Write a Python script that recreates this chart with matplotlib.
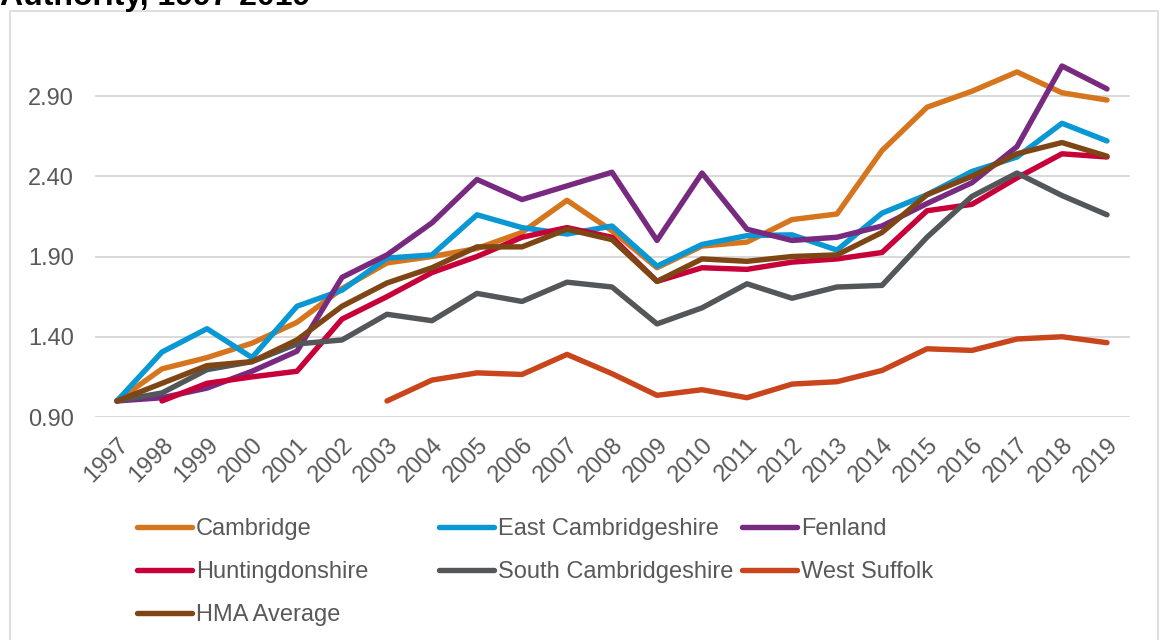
import matplotlib.pyplot as plt
import numpy as np
from matplotlib.patches import Rectangle

plt.rcParams["font.family"] = ["Liberation Sans", "DejaVu Sans"]

W, H = 1164, 640
GREY_TXT = "#595959"
GRID = "#D9D9D9"

years = list(range(1997, 2020))
nan = np.nan

cambridge = [1.00, 1.20, 1.27, 1.36, 1.49, 1.70, 1.86, 1.90, 1.95, 2.05, 2.25, 2.06,
             1.83, 1.965, 1.99, 2.13, 2.165, 2.56, 2.83, 2.93, 3.05, 2.92, 2.875]
east_cambs = [1.00, 1.305, 1.45, 1.27, 1.59, 1.69, 1.89, 1.91, 2.16, 2.08, 2.04, 2.09,
              1.84, 1.975, 2.03, 2.035, 1.94, 2.17, 2.285, 2.43, 2.52, 2.73, 2.62]
fenland = [1.00, 1.02, 1.08, 1.185, 1.31, 1.77, 1.91, 2.11, 2.38, 2.255, 2.34, 2.425,
           2.00, 2.42, 2.07, 2.00, 2.02, 2.09, 2.23, 2.36, 2.585, 3.087, 2.944]
hunts = [nan, 1.00, 1.11, 1.15, 1.185, 1.51, 1.65, 1.80, 1.90, 2.02, 2.08, 2.02,
         1.745, 1.83, 1.82, 1.865, 1.885, 1.925, 2.185, 2.225, 2.39, 2.54, 2.52]
south_cambs = [1.00, 1.05, 1.195, 1.245, 1.355, 1.38, 1.54, 1.50, 1.67, 1.62, 1.74, 1.71,
               1.48, 1.58, 1.73, 1.64, 1.71, 1.72, 2.02, 2.275, 2.42, 2.28, 2.16]
west_suffolk = [nan, nan, nan, nan, nan, nan, 1.00, 1.13, 1.175, 1.165, 1.29, 1.17,
                1.035, 1.07, 1.02, 1.105, 1.12, 1.19, 1.325, 1.315, 1.386, 1.40, 1.363]
hma_avg = [1.00, 1.11, 1.22, 1.245, 1.38, 1.59, 1.735, 1.83, 1.96, 1.96, 2.07, 2.005,
           1.745, 1.885, 1.87, 1.90, 1.91, 2.05, 2.285, 2.40, 2.54, 2.61, 2.525]

series = [
    ("Cambridge", cambridge, "#D5761E"),
    ("East Cambridgeshire", east_cambs, "#0A98D5"),
    ("Fenland", fenland, "#772A80"),
    ("Huntingdonshire", hunts, "#C70039"),
    ("South Cambridgeshire", south_cambs, "#53575A"),
    ("West Suffolk", west_suffolk, "#C9451C"),
    ("HMA Average", hma_avg, "#7E4614"),
]
yticks = [0.90, 1.40, 1.90, 2.40, 2.90]

fig = plt.figure(figsize=(W / 100, H / 100), dpi=100)

# chart frame
fig.patches.append(Rectangle((9.5 / W, -0.1), (1158 - 9.5) / W, 1.1 - 11 / H,
                             transform=fig.transFigure, fill=False,
                             edgecolor="#D9D9D9", linewidth=1.2))

# title, cut off at the top edge as in the source image
fig.text(310 / W, 1 - 5 / H, "Authority, 1997-2019", ha="right", va="baseline",
         fontsize=23, fontweight="bold", color="black")

left, right = 94.5 / W, 1129.5 / W
bottom, top = 1 - 417 / H, 1 - 40 / H
ax = fig.add_axes([left, bottom, right - left, top - bottom])

handles = {}
for name, vals, clr in series:
    ln, = ax.plot(years, vals, color=clr, linewidth=3.9, label=name,
                  solid_capstyle="round", solid_joinstyle="round", clip_on=False)
    handles[name] = ln

ax.set_xlim(1996.5, 2019.5)
ax.set_ylim(0.90, 3.249)
ax.set_yticks(yticks)
ax.set_yticklabels([f"{v:.2f}" for v in yticks])
ax.set_xticks(years)
ax.set_xticklabels([str(y) for y in years], rotation=45, ha="right")
ax.tick_params(axis="both", length=0, labelsize=17, labelcolor=GREY_TXT)
ax.tick_params(axis="y", pad=15)
ax.tick_params(axis="x", pad=12)
for lbl in ax.get_xticklabels():
    lbl.set_rotation_mode("anchor")

ax.grid(axis="y", color=GRID, linewidth=1.4)
ax.set_axisbelow(True)
for s in ax.spines.values():
    s.set_visible(False)

# legend laid out in three columns like the source
cols = [
    (137, ["Cambridge", "Huntingdonshire", "HMA Average"]),
    (439, ["East Cambridgeshire", "South Cambridgeshire"]),
    (742, ["Fenland", "West Suffolk"]),
]
for x0, names in cols:
    fig.legend([handles[n] for n in names], names, loc="upper left",
               bbox_to_anchor=(x0 / W, 1 - 518 / H), bbox_transform=fig.transFigure,
               frameon=False, fontsize=17, labelcolor=GREY_TXT, borderpad=0,
               borderaxespad=0, handlelength=2.33, handletextpad=0.17,
               labelspacing=0.9)

plt.savefig("out.png", dpi=100)
